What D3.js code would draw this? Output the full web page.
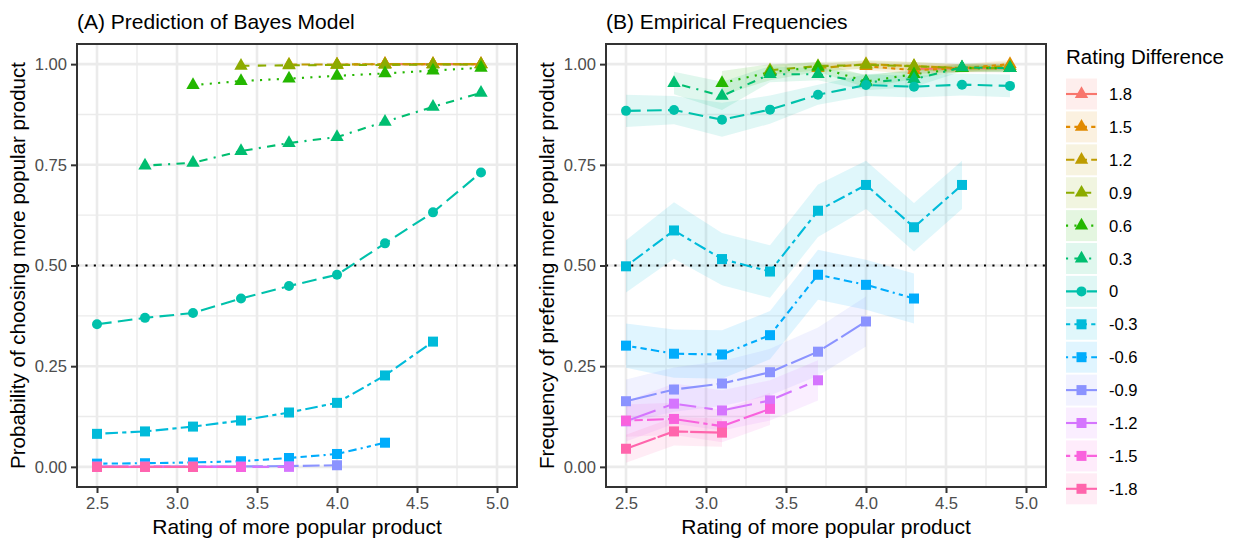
<!DOCTYPE html>
<html>
<head>
<meta charset="utf-8">
<script src="https://cdn.jsdelivr.net/npm/d3@7"></script>
<style>
body{margin:0;background:#fff;}
text{font-family:"Liberation Sans",Arial,Helvetica,sans-serif;}
</style>
</head>
<body>
<div id="chart"></div>
<script>
// x positions (rating of more popular product)
var xGrid = [2.5, 2.8, 3.1, 3.4, 3.7, 4.0, 4.3, 4.6, 4.9];
var diffLabels = ["1.8","1.5","1.2","0.9","0.6","0.3","0","-0.3","-0.6","-0.9","-1.2","-1.5","-1.8"];
var xTicks = [2.5, 3.0, 3.5, 4.0, 4.5, 5.0];
var yTicks = [0, 0.25, 0.5, 0.75, 1.0];

// (A) model predictions, one row per rating difference, null = no data
var bayesVals = [
	[null,null,null,null,null,null,1.000,1.000,1.000],
	[null,null,null,null,null,0.999,1.000,1.000,1.000],
	[null,null,null,null,0.999,0.999,1.000,1.000,1.000],
	[null,null,null,0.996,0.997,0.998,0.998,0.999,0.999],
	[null,null,0.948,0.958,0.964,0.971,0.977,0.984,0.991],
	[null,0.748,0.755,0.784,0.804,0.819,0.857,0.894,0.929],
	[0.354,0.370,0.382,0.418,0.449,0.477,0.555,0.632,0.731],
	[0.082,0.088,0.100,0.115,0.135,0.159,0.227,0.311,null],
	[0.008,0.009,0.011,0.014,0.022,0.032,0.060,null,null],
	[0.001,0.001,0.001,0.001,0.002,0.004,null,null,null],
	[0.000,0.000,0.000,0.000,0.000,null,null,null,null],
	[0.000,0.000,0.000,0.000,null,null,null,null,null],
	[0.000,0.000,0.000,null,null,null,null,null,null]
];

// (B) empirical frequencies
var empVals = [
	[null,null,null,null,null,null,0.988,0.990,0.990],
	[null,null,null,null,null,0.995,0.985,0.990,1.000],
	[null,null,null,null,0.990,1.000,0.995,0.990,0.995],
	[null,null,null,0.985,0.995,0.998,0.995,0.990,0.990],
	[null,null,0.953,0.980,0.993,0.957,0.975,0.990,0.990],
	[null,0.953,0.921,0.975,0.975,0.955,0.963,0.992,0.990],
	[0.884,0.886,0.862,0.887,0.924,0.948,0.944,0.949,0.946],
	[0.498,0.587,0.516,0.485,0.636,0.700,0.595,0.700,null],
	[0.301,0.281,0.279,0.327,0.477,0.452,0.418,null,null],
	[0.163,0.192,0.207,0.235,0.286,0.361,null,null,null],
	[0.113,0.157,0.140,0.165,0.215,null,null,null,null],
	[0.115,0.119,0.101,0.144,null,null,null,null,null],
	[0.045,0.088,0.085,null,null,null,null,null,null]
];

// half width of the ribbon round each empirical value
var empHalf = [
	[null,null,null,null,null,null,0.010,0.010,0.010],
	[null,null,null,null,null,0.010,0.010,0.010,0.010],
	[null,null,null,null,0.010,0.010,0.010,0.010,0.010],
	[null,null,null,0.012,0.010,0.010,0.010,0.010,0.010],
	[null,null,0.030,0.020,0.012,0.015,0.012,0.008,0.008],
	[null,0.028,0.035,0.020,0.015,0.020,0.020,0.010,0.010],
	[0.040,0.035,0.042,0.035,0.025,0.027,0.027,0.027,0.028],
	[0.065,0.070,0.065,0.065,0.065,0.060,0.060,0.060,null],
	[0.055,0.060,0.060,0.060,0.062,0.062,0.062,null,null],
	[0.054,0.055,0.056,0.058,0.060,0.062,null,null,null],
	[0.050,0.050,0.050,0.050,0.050,null,null,null,null],
	[0.040,0.040,0.040,0.040,null,null,null,null,null],
	[0.035,0.035,0.035,null,null,null,null,null,null]
];

// styles
var colors = ["#F8766D","#E18A00","#BE9C00","#8CAB00","#24B700","#00BE70","#00C1AB","#00BBDA","#00ACFC","#8B93FF","#D575FE","#F962DD","#FF65AC"];
var ltypes = ["solid","22","42","44","13","1343","73","2262","12223242","F282","F4448444","224282F2","F1"];
var shapes = ["tri","tri","tri","tri","tri","tri","circle","square","square","square","square","square","square"];

var W = 1235, H = 541;
var lw = 2.1;
var panelTop = 44, panelBottom = 487, pw = 440;

var svg = d3.select("#chart").append("svg")
	.attr("width", W).attr("height", H);

var dashOf = function(code){
	if(code === "solid") return null;
	return code.split("").map(function(c){ return parseInt(c,16)*lw; }).join(",");
};

var drawShape = function(g, kind, x, y, col){
	if(kind === "circle"){
		g.append("circle").attr("cx",x).attr("cy",y).attr("r",5).attr("fill",col);
	}else if(kind === "square"){
		g.append("rect").attr("x",x-5).attr("y",y-5).attr("width",10).attr("height",10).attr("fill",col);
	}else{
		g.append("path").attr("d","M"+x+","+(y-7.8)+"L"+(x+6.7)+","+(y+3.9)+"L"+(x-6.7)+","+(y+3.9)+"Z").attr("fill",col);
	}
};

var drawPanel = function(left, title, yTitle, vals, half){
	var g = svg.append("g");
	var x = d3.scaleLinear().domain([2.375, 5.125]).range([left, left+pw]);
	var y = d3.scaleLinear().domain([-0.05, 1.05]).range([panelBottom, panelTop]);

	//grid
	var minorX = [2.75, 3.25, 3.75, 4.25, 4.75];
	var minorY = [0.125, 0.375, 0.625, 0.875];
	minorX.forEach(function(v){
		g.append("line").attr("x1",x(v)).attr("x2",x(v)).attr("y1",panelTop).attr("y2",panelBottom)
			.attr("stroke","#EBEBEB").attr("stroke-width",1.4);
	});
	minorY.forEach(function(v){
		g.append("line").attr("x1",left).attr("x2",left+pw).attr("y1",y(v)).attr("y2",y(v))
			.attr("stroke","#EBEBEB").attr("stroke-width",1.4);
	});
	xTicks.forEach(function(v){
		g.append("line").attr("x1",x(v)).attr("x2",x(v)).attr("y1",panelTop).attr("y2",panelBottom)
			.attr("stroke","#EBEBEB").attr("stroke-width",2.6);
	});
	yTicks.forEach(function(v){
		g.append("line").attr("x1",left).attr("x2",left+pw).attr("y1",y(v)).attr("y2",y(v))
			.attr("stroke","#EBEBEB").attr("stroke-width",2.6);
	});

	//ribbons
	if(half){
		var area = d3.area()
			.defined(function(d){ return d[1] != null; })
			.x(function(d){ return x(d[0]); })
			.y0(function(d){ return y(d[1]-d[2]); })
			.y1(function(d){ return y(d[1]+d[2]); });
		vals.forEach(function(row,i){
			var pts = xGrid.map(function(xv,j){ return [xv,row[j],half[i][j]]; });
			g.append("path").attr("d",area(pts)).attr("fill",colors[i]).attr("fill-opacity",0.12);
		});
	}

	// 0.5 reference line
	g.append("line").attr("x1",left).attr("x2",left+pw).attr("y1",y(0.5)).attr("y2",y(0.5))
		.attr("stroke","#000").attr("stroke-width",lw).attr("stroke-dasharray",dashOf("13"));

	//lines
	var line = d3.line()
		.defined(function(d){ return d[1] != null; })
		.x(function(d){ return x(d[0]); })
		.y(function(d){ return y(d[1]); });
	vals.forEach(function(row,i){
		var pts = xGrid.map(function(xv,j){ return [xv,row[j]]; });
		g.append("path").attr("d",line(pts)).attr("fill","none")
			.attr("stroke",colors[i]).attr("stroke-width",lw)
			.attr("stroke-dasharray",dashOf(ltypes[i]));
	});

	//points
	vals.forEach(function(row,i){
		row.forEach(function(v,j){
			if(v == null) return;
			drawShape(g, shapes[i], x(xGrid[j]), y(v), colors[i]);
		});
	});

	//border
	g.append("rect").attr("x",left).attr("y",panelTop).attr("width",pw).attr("height",panelBottom-panelTop)
		.attr("fill","none").attr("stroke","#333333").attr("stroke-width",2);

	//axes
	var xAxis = g.append("g").attr("transform","translate(0,"+panelBottom+")")
		.call(d3.axisBottom(x).tickValues(xTicks).tickFormat(d3.format(".1f")).tickSize(6).tickPadding(4));
	var yAxis = g.append("g").attr("transform","translate("+left+",0)")
		.call(d3.axisLeft(y).tickValues(yTicks).tickFormat(d3.format(".2f")).tickSize(6).tickPadding(4));
	[xAxis, yAxis].forEach(function(a){
		a.select(".domain").remove();
		a.selectAll(".tick line").attr("stroke","#333333").attr("stroke-width",2);
		a.selectAll(".tick text").attr("fill","#4D4D4D").style("font-size","16.6px")
			.style("font-family","'Liberation Sans',Arial,sans-serif");
	});

	//titles
	g.append("text").attr("x",left).attr("y",29).text(title)
		.style("font-size","21px").attr("fill","#000");
	g.append("text").attr("x",left+pw/2).attr("y",534).attr("text-anchor","middle")
		.text("Rating of more popular product").style("font-size","21px");
	g.append("text").attr("transform","translate("+(left-52)+","+((panelTop+panelBottom)/2)+") rotate(-90)")
		.attr("text-anchor","middle").text(yTitle).style("font-size","20.5px");
};

drawPanel(77, "(A) Prediction of Bayes Model", "Probability of choosing more popular product", bayesVals, null);
drawPanel(606, "(B) Empirical Frequencies", "Frequency of prefering more popular product", empVals, empHalf);

//legend
var leg = svg.append("g");
leg.append("text").attr("x",1066).attr("y",64).text("Rating Difference").style("font-size","20.5px");
diffLabels.forEach(function(lab,i){
	var cy = 94 + i*32.9;
	leg.append("rect").attr("x",1066).attr("y",cy-15.5).attr("width",31).attr("height",31)
		.attr("fill",colors[i]).attr("fill-opacity",0.12);
	leg.append("line").attr("x1",1066).attr("x2",1097).attr("y1",cy).attr("y2",cy)
		.attr("stroke",colors[i]).attr("stroke-width",lw).attr("stroke-dasharray",dashOf(ltypes[i]));
	drawShape(leg, shapes[i], 1081.5, cy, colors[i]);
	leg.append("text").attr("x",1109).attr("y",cy+6).text(lab).style("font-size","16.6px");
});
</script>
</body>
</html>
